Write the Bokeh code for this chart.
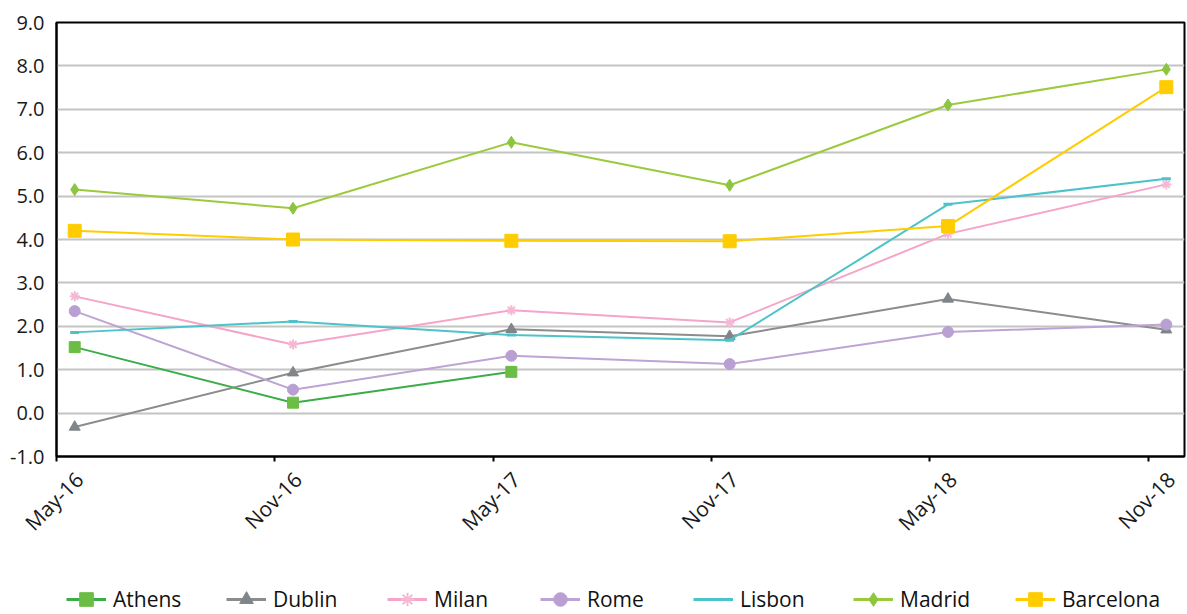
from math import pi

from bokeh.embed import file_html
from bokeh.layouts import column
from bokeh.models import (ColumnDataSource, FixedTicker, Grid, Legend,
                          LegendItem, LinearAxis, NumeralTickFormatter, Range1d)
from bokeh.plotting import figure
from bokeh.resources import INLINE

# Survey periods and the month offset of each period (from May 2016)
periods = ["May-16", "Nov-16", "May-17", "Nov-17", "May-18", "Nov-18"]
period_month = [0, 6, 12, 18, 24, 30]

athens = [1.52, 0.24, 0.95, None, None, None]
dublin = [-0.32, 0.93, 1.93, 1.77, 2.63, 1.92]
milan = [2.69, 1.58, 2.37, 2.09, 4.13, 5.27]
rome = [2.35, 0.54, 1.32, 1.13, 1.87, 2.04]
lisbon = [1.86, 2.11, 1.80, 1.68, 4.81, 5.40]
madrid = [5.15, 4.72, 6.24, 5.25, 7.10, 7.92]
barcelona = [4.20, 4.00, 3.97, 3.96, 4.31, 7.51]

FONT = "Open Sans"
TEXT = "#1a1a1a"
W, H_MAIN, H_LEG = 1187, 580, 34
LEFT = 56

p = figure(width=W, height=H_MAIN, output_backend="svg", toolbar_location=None,
           x_range=Range1d(0, 31), y_range=Range1d(-1, 9),
           min_border_left=LEFT, min_border_right=3, min_border_top=22,
           min_border_bottom=124, x_axis_location=None, y_axis_location=None)
p.outline_line_color = "black"
p.outline_line_width = 2
p.background_fill_color = "white"
p.border_fill_color = "white"
for g in p.grid:
    g.visible = False

# y axis
yax = LinearAxis(ticker=FixedTicker(ticks=list(range(-1, 10))),
                 formatter=NumeralTickFormatter(format="0.0"))
yax.axis_line_color = "black"
yax.axis_line_width = 2
yax.major_tick_line_color = None
yax.minor_tick_line_color = None
yax.major_label_standoff = 6
yax.major_label_text_font = FONT
yax.major_label_text_font_size = "20px"
yax.major_label_text_color = TEXT
p.add_layout(yax, "left")

# x axis line and tick marks at period starts
xax = LinearAxis(ticker=FixedTicker(ticks=period_month))
xax.axis_line_color = "black"
xax.axis_line_width = 2
xax.major_tick_line_color = "black"
xax.major_tick_line_width = 2
xax.major_tick_in = 0
xax.major_tick_out = 5
xax.minor_tick_line_color = None
xax.major_label_text_color = None
xax.major_label_standoff = 0
p.add_layout(xax, "below")

# rotated period labels
lab_pos = [m + 0.63 for m in period_month]
xlab = LinearAxis(ticker=FixedTicker(ticks=lab_pos))
xlab.major_label_overrides = {pos: name for pos, name in zip(lab_pos, periods)}
xlab.axis_line_color = None
xlab.major_tick_line_color = None
xlab.minor_tick_line_color = None
xlab.major_label_orientation = pi / 4
xlab.major_label_standoff = 8
xlab.major_label_text_font = FONT
xlab.major_label_text_font_size = "21px"
xlab.major_label_text_color = TEXT
p.add_layout(xlab, "below")

# horizontal gridlines
p.add_layout(Grid(dimension=1, ticker=FixedTicker(ticks=list(range(0, 9))),
                  grid_line_color="#c4c4c4", grid_line_width=2))

series = [
    ("Athens", athens, "#3aad48", "#6bbd45", "square", 11),
    ("Dublin", dublin, "#8c8c8c", "#7f8588", "triangle", 11),
    ("Milan", milan, "#f4a5c8", "#f6b8d4", "asterisk", 10),
    ("Rome", rome, "#bda4d4", "#b9a0d2", "circle", 11),
    ("Lisbon", lisbon, "#4cc3c9", "#4cc3c9", "dash", 9),
    ("Madrid", madrid, "#9dc93d", "#8cc63f", "diamond", 12),
    ("Barcelona", barcelona, "#ffcc00", "#ffcc00", "square", 13),
]
legend_x = [66, 226, 387, 540, 693, 853, 1015]

# legend strip below the chart; its ranges sit away from the data so only
# the legend entries show
lf = figure(width=W, height=H_LEG, output_backend="svg", toolbar_location=None,
            x_range=Range1d(100, 101), y_range=Range1d(100, 101),
            min_border=0, min_border_left=LEFT, min_border_right=3,
            x_axis_location=None, y_axis_location=None)
lf.outline_line_color = None
for g in lf.grid:
    g.visible = False

x_pts = [m + 0.5 for m in period_month]
for (name, vals, lc, mc, marker, size), lx in zip(series, legend_x):
    xs = [x for x, v in zip(x_pts, vals) if v is not None]
    ys = [v for v in vals if v is not None]
    src = ColumnDataSource(dict(x=xs, y=ys))
    lw = 3 if marker == "dash" else (2 if marker == "asterisk" else 1)
    p.line("x", "y", source=src, line_color=lc, line_width=2)
    p.scatter("x", "y", source=src, marker=marker, size=size,
              fill_color=mc, line_color=mc, line_width=lw)

    k_line = lf.line("x", "y", source=src, line_color=lc, line_width=3)
    k_pt = lf.scatter("x", "y", source=src, marker=marker, size=size,
                      fill_color=mc, line_color=mc, line_width=lw)
    leg = Legend(items=[LegendItem(label=name, renderers=[k_line, k_pt])],
                 location=(lx - LEFT, -2), orientation="horizontal",
                 glyph_width=40, glyph_height=34, label_standoff=7,
                 padding=0, margin=0, border_line_color=None,
                 background_fill_alpha=0,
                 label_text_font=FONT, label_text_font_size="21px",
                 label_text_color="#111111")
    lf.add_layout(leg, "center")

layout = column(p, lf, spacing=0)
open("out.html", "w").write(file_html(layout, INLINE))
